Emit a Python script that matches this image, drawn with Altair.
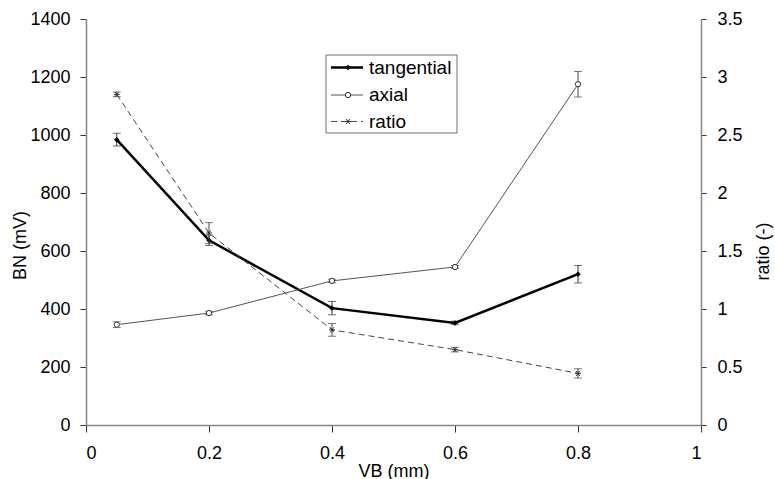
import altair as alt
import pandas as pd

# Flank wear VB (mm) and Barkhausen noise readings
vb = [0.05, 0.2, 0.4, 0.6, 0.8]
tangential = [984, 637, 403, 352, 520]
tangential_err = [22, 18, 23, 6, 30]
axial = [346, 386, 497, 545, 1175]
axial_err = [10, 6, 6, 5, 44]
ratio = [2.85, 1.655, 0.82, 0.65, 0.445]
ratio_err = [0.02, 0.09, 0.055, 0.02, 0.04]

x_ticks = [0, 0.2, 0.4, 0.6, 0.8, 1]
bn_ticks = [0, 200, 400, 600, 800, 1000, 1200, 1400]
ratio_ticks = [0, 0.5, 1, 1.5, 2, 2.5, 3, 3.5]

df = pd.DataFrame({
    "vb": vb,
    "tan": tangential, "tan_lo": [v - e for v, e in zip(tangential, tangential_err)],
    "tan_hi": [v + e for v, e in zip(tangential, tangential_err)],
    "ax": axial, "ax_lo": [v - e for v, e in zip(axial, axial_err)],
    "ax_hi": [v + e for v, e in zip(axial, axial_err)],
    "ratio": ratio, "r_lo": [v - e for v, e in zip(ratio, ratio_err)],
    "r_hi": [v + e for v, e in zip(ratio, ratio_err)],
})

FONT = "Liberation Sans"
AXIS_GRAY = "#868686"
ASTERISK = "M-1,0L1,0M-0.6,-0.85L0.6,0.85M-0.6,0.85L0.6,-0.85"

x_enc = alt.X("vb:Q", scale=alt.Scale(domain=[0, 1], nice=False),
              axis=alt.Axis(values=x_ticks, format="~g", title="VB (mm)", grid=False,
                            tickSize=7, labelPadding=12, titleBaseline="middle", titleY=46))

bn_scale = alt.Scale(domain=[0, 1400], nice=False)
bn_axis = alt.Axis(values=bn_ticks, format="d", title="BN (mV)", grid=False, tickSize=6,
                   labelPadding=10, titleBaseline="middle", titleX=-66, titleY=226)
r_scale = alt.Scale(domain=[0, 3.5], nice=False)
r_axis = alt.Axis(values=ratio_ticks, format="~g", title="ratio (-)", orient="right",
                  grid=False, tickSize=5, labelPadding=11, titleAngle=-90,
                  titleBaseline="middle", titleX=62, titleY=232)

base = alt.Chart(df)


def errbars(lo, hi, scale, axis, color):
    rule = base.mark_rule(color=color, strokeWidth=1).encode(
        x=x_enc, y=alt.Y(f"{lo}:Q", scale=scale, axis=axis), y2=f"{hi}:Q")
    cap_lo = base.mark_tick(color=color, orient="horizontal", size=8, thickness=1).encode(
        x=x_enc, y=alt.Y(f"{lo}:Q", scale=scale, axis=axis))
    cap_hi = base.mark_tick(color=color, orient="horizontal", size=8, thickness=1).encode(
        x=x_enc, y=alt.Y(f"{hi}:Q", scale=scale, axis=axis))
    return [rule, cap_lo, cap_hi]


# Tangential: thick black line, filled diamonds
tan_line = base.mark_line(color="black", strokeWidth=2.5).encode(
    x=x_enc, y=alt.Y("tan:Q", scale=bn_scale, axis=bn_axis))
tan_pts = base.mark_point(shape="diamond", filled=True, color="black", size=30, opacity=1).encode(
    x=x_enc, y=alt.Y("tan:Q", scale=bn_scale, axis=bn_axis))

# Axial: thin grey line, open circles
ax_line = base.mark_line(color="#555555", strokeWidth=1).encode(
    x=x_enc, y=alt.Y("ax:Q", scale=bn_scale, axis=bn_axis))
ax_pts = base.mark_point(shape="circle", filled=True, fill="white", stroke="#333333",
                         strokeWidth=1, size=28, opacity=1).encode(
    x=x_enc, y=alt.Y("ax:Q", scale=bn_scale, axis=bn_axis))

left = alt.layer(
    *errbars("tan_lo", "tan_hi", bn_scale, bn_axis, "#333333"),
    *errbars("ax_lo", "ax_hi", bn_scale, bn_axis, "#444444"),
    tan_line, tan_pts, ax_line, ax_pts,
)

# Ratio on the secondary axis: dashed line, asterisk markers
r_line = base.mark_line(color="#444444", strokeWidth=1, strokeDash=[6, 4]).encode(
    x=x_enc, y=alt.Y("ratio:Q", scale=r_scale, axis=r_axis))
r_pts = base.mark_point(shape=ASTERISK, filled=False, color="#333333", strokeWidth=1,
                        size=35, opacity=1).encode(
    x=x_enc, y=alt.Y("ratio:Q", scale=r_scale, axis=r_axis))

right = alt.layer(*errbars("r_lo", "r_hi", r_scale, r_axis, "#444444"), r_line, r_pts)

# Legend box drawn in pixel space
one = alt.Chart(pd.DataFrame({"k": [0]}))
leg_box = one.mark_rect(fill="white", stroke="#707070", strokeWidth=1).encode(
    x=alt.value(240), x2=alt.value(371), y=alt.value(36), y2=alt.value(114))
leg_rows = [48.5, 76, 102.5]
leg_names = ["tangential", "axial", "ratio"]
leg_layers = [leg_box]
lx0, lx1, lxm, ltx = 245, 277, 262, 283
leg_layers.append(one.mark_rule(color="black", strokeWidth=2.5).encode(
    x=alt.value(lx0), x2=alt.value(lx1), y=alt.value(leg_rows[0])))
leg_layers.append(one.mark_point(shape="diamond", filled=True, color="black", size=30, opacity=1).encode(
    x=alt.value(lxm), y=alt.value(leg_rows[0])))
leg_layers.append(one.mark_rule(color="#555555", strokeWidth=1).encode(
    x=alt.value(lx0), x2=alt.value(lx1), y=alt.value(leg_rows[1])))
leg_layers.append(one.mark_point(shape="circle", filled=True, fill="white", stroke="#333333",
                                 strokeWidth=1, size=28, opacity=1).encode(
    x=alt.value(lxm), y=alt.value(leg_rows[1])))
leg_layers.append(one.mark_rule(color="#444444", strokeWidth=1, strokeDash=[6, 4]).encode(
    x=alt.value(lx0), x2=alt.value(lx1), y=alt.value(leg_rows[2])))
leg_layers.append(one.mark_point(shape=ASTERISK, filled=False, color="#333333", strokeWidth=1,
                                 size=35, opacity=1).encode(
    x=alt.value(lxm), y=alt.value(leg_rows[2])))
for name, yy in zip(leg_names, leg_rows):
    leg_layers.append(one.mark_text(text=name, align="left", baseline="middle", font=FONT,
                                    fontSize=19, color="black").encode(
        x=alt.value(ltx), y=alt.value(yy)))

legend = alt.layer(*leg_layers)

chart = alt.layer(left, right, legend).resolve_scale(y="independent").properties(
    width=615, height=406,
    autosize=alt.AutoSizeParams(type="none"),
    padding={"left": 86, "top": 19, "right": 74, "bottom": 54},
).configure_view(stroke=None).configure_axis(
    domainColor=AXIS_GRAY, tickColor="#333333", labelColor="black", titleColor="black",
    labelFont=FONT, titleFont=FONT, labelFontSize=18, titleFontSize=18,
    titleFontWeight="normal", domainWidth=1.5,
)

chart.save("out.html", embed_options={"renderer": "svg", "actions": False})
